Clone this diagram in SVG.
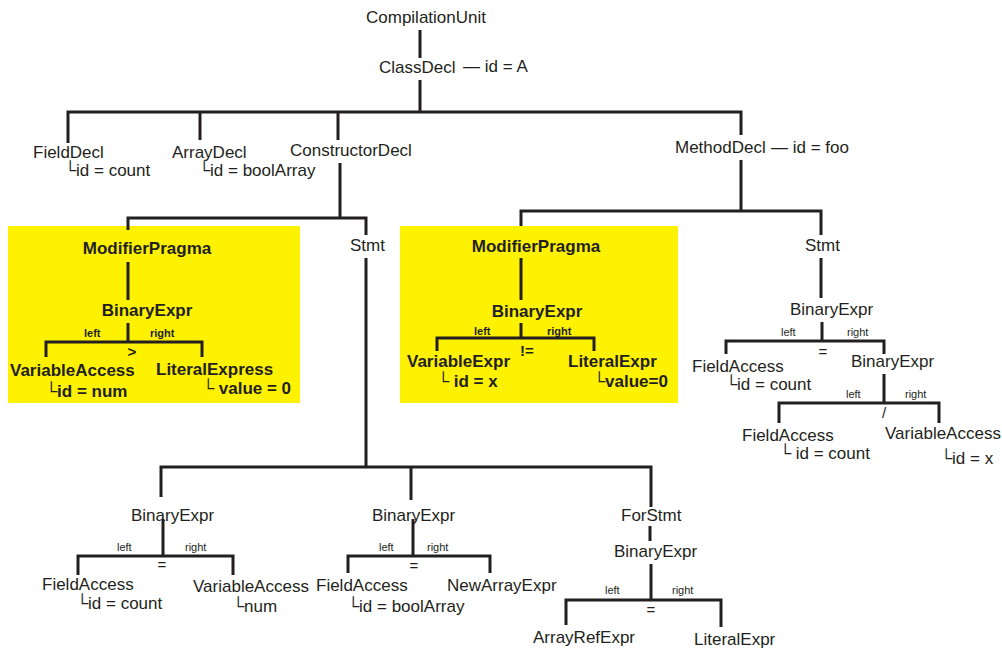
<svg xmlns="http://www.w3.org/2000/svg" width="1002" height="652" viewBox="0 0 1002 652">
  <style>
    text { font-family: "Liberation Sans", Arial, sans-serif; fill: #231f20; }
    .n { font-size: 17px; }
    .b { font-size: 17px; font-weight: bold; }
    .s { font-size: 11px; }
    .sb { font-size: 11px; font-weight: bold; }
    .op { font-size: 15px; }
    .opb { font-size: 15px; font-weight: bold; }
    .m { text-anchor: middle; }
    .hl { fill: #fff200; }
    #connectors path { fill: none; stroke: #231f20; stroke-width: 3; }
  </style>
  <rect width="1002" height="652" fill="#ffffff"/>

  <!-- highlighted pragma regions -->
  <rect class="hl" x="8" y="226" width="292" height="177"/>
  <rect class="hl" x="400" y="226" width="278" height="177"/>

  <g id="connectors">
    <path d="M420 30V58M420 80V112M68 143V112H741V135M200 112V140M338 112V140"/>
    <path d="M340 163V218M128 230V218H366V235"/>
    <path d="M128 262V300M128 323V342M46 357V342H202V357"/>
    <path d="M741 160V211M521 226V211H821V235"/>
    <path d="M521 258V300M521 323V338M437 351V338H594V351"/>
    <path d="M821 258V298M822 322V341M726 354V341H884V354M884 374V403M779 423V403H939V423"/>
    <path d="M366 258V467M161 497V467H651V507M411 467V500"/>
    <path d="M163 519V556M78 575V556H233V575"/>
    <path d="M413 519V556M348 573V556H490V573"/>
    <path d="M650 526V541M651 564V600M566 625V600H721V627"/>
  </g>

  <g id="compilation-unit"><text class="n m" x="426" y="23">CompilationUnit</text></g>
  <g id="class-decl">
    <text class="n" x="379" y="73">ClassDecl</text>
    <text class="n" x="463" y="72">— id = A</text>
  </g>
  <g id="field-decl">
    <text class="n" x="33" y="158">FieldDecl</text>
    <text class="n" x="64" y="176">└id = count</text>
  </g>
  <g id="array-decl">
    <text class="n" x="172" y="158">ArrayDecl</text>
    <text class="n" x="198" y="176">└id = boolArray</text>
  </g>
  <g id="constructor-decl"><text class="n" x="290" y="156">ConstructorDecl</text></g>
  <g id="method-decl">
    <text class="n" x="675" y="153">MethodDecl</text>
    <text class="n" x="771" y="153">— id = foo</text>
  </g>

  <!-- constructor pragma -->
  <g id="modifier-pragma-1"><text class="b m" x="147" y="254">ModifierPragma</text></g>
  <g id="binary-expr-1">
    <text class="b m" x="147" y="316">BinaryExpr</text>
    <text class="sb" x="84" y="337">left</text>
    <text class="sb" x="150" y="337">right</text>
    <text class="opb m" x="132" y="357">&gt;</text>
  </g>
  <g id="variable-access-1">
    <text class="b" x="10" y="376">VariableAccess</text>
    <text class="b" x="45" y="397">└id = num</text>
  </g>
  <g id="literal-express-1">
    <text class="b" x="156" y="375">LiteralExpress</text>
    <text class="b" x="202" y="394">└ value = 0</text>
  </g>

  <!-- method pragma -->
  <g id="modifier-pragma-2"><text class="b m" x="536" y="252">ModifierPragma</text></g>
  <g id="binary-expr-2">
    <text class="b m" x="537" y="317">BinaryExpr</text>
    <text class="sb" x="474" y="335">left</text>
    <text class="sb" x="547" y="335">right</text>
    <text class="opb m" x="527" y="356">!=</text>
  </g>
  <g id="variable-expr-2">
    <text class="b" x="407" y="367">VariableExpr</text>
    <text class="b" x="437" y="387">└  id = x</text>
  </g>
  <g id="literal-expr-2">
    <text class="b" x="568" y="367">LiteralExpr</text>
    <text class="b" x="593" y="387">└value=0</text>
  </g>

  <!-- method body -->
  <g id="stmt-method"><text class="n" x="805" y="251">Stmt</text></g>
  <g id="binary-expr-3">
    <text class="n" x="790" y="315">BinaryExpr</text>
    <text class="s" x="781" y="336">left</text>
    <text class="s" x="847" y="336">right</text>
    <text class="op m" x="823" y="357">=</text>
  </g>
  <g id="field-access-3">
    <text class="n" x="692" y="372">FieldAccess</text>
    <text class="n" x="725" y="390">└id = count</text>
  </g>
  <g id="binary-expr-4">
    <text class="n" x="851" y="367">BinaryExpr</text>
    <text class="s" x="846" y="398">left</text>
    <text class="s" x="905" y="398">right</text>
    <text class="op m" x="884" y="418">/</text>
  </g>
  <g id="field-access-4">
    <text class="n" x="742" y="441">FieldAccess</text>
    <text class="n" x="779" y="459">└  id = count</text>
  </g>
  <g id="variable-access-4">
    <text class="n" x="885" y="439">VariableAccess</text>
    <text class="n" x="940" y="464">└id = x</text>
  </g>

  <!-- constructor body -->
  <g id="stmt-constructor"><text class="n" x="350" y="251">Stmt</text></g>
  <g id="binary-expr-5">
    <text class="n" x="131" y="521">BinaryExpr</text>
    <text class="s" x="117" y="551">left</text>
    <text class="s" x="185" y="551">right</text>
    <text class="op m" x="162" y="570">=</text>
  </g>
  <g id="field-access-5">
    <text class="n" x="42" y="590">FieldAccess</text>
    <text class="n" x="76" y="609">└id = count</text>
  </g>
  <g id="variable-access-5">
    <text class="n" x="193" y="592">VariableAccess</text>
    <text class="n" x="232" y="612">└num</text>
  </g>
  <g id="binary-expr-6">
    <text class="n" x="372" y="521">BinaryExpr</text>
    <text class="s" x="379" y="551">left</text>
    <text class="s" x="427" y="551">right</text>
    <text class="op m" x="414" y="571">=</text>
  </g>
  <g id="field-access-6">
    <text class="n" x="316" y="591">FieldAccess</text>
    <text class="n" x="347" y="612">└id = boolArray</text>
  </g>
  <g id="new-array-expr-6"><text class="n" x="447" y="591">NewArrayExpr</text></g>
  <g id="for-stmt"><text class="n" x="621" y="521">ForStmt</text></g>
  <g id="binary-expr-7">
    <text class="n" x="614" y="557">BinaryExpr</text>
    <text class="s" x="605" y="594">left</text>
    <text class="s" x="672" y="594">right</text>
    <text class="op m" x="651" y="615">=</text>
  </g>
  <g id="array-ref-expr-7"><text class="n" x="533" y="643">ArrayRefExpr</text></g>
  <g id="literal-expr-7"><text class="n" x="694" y="645">LiteralExpr</text></g>
</svg>
